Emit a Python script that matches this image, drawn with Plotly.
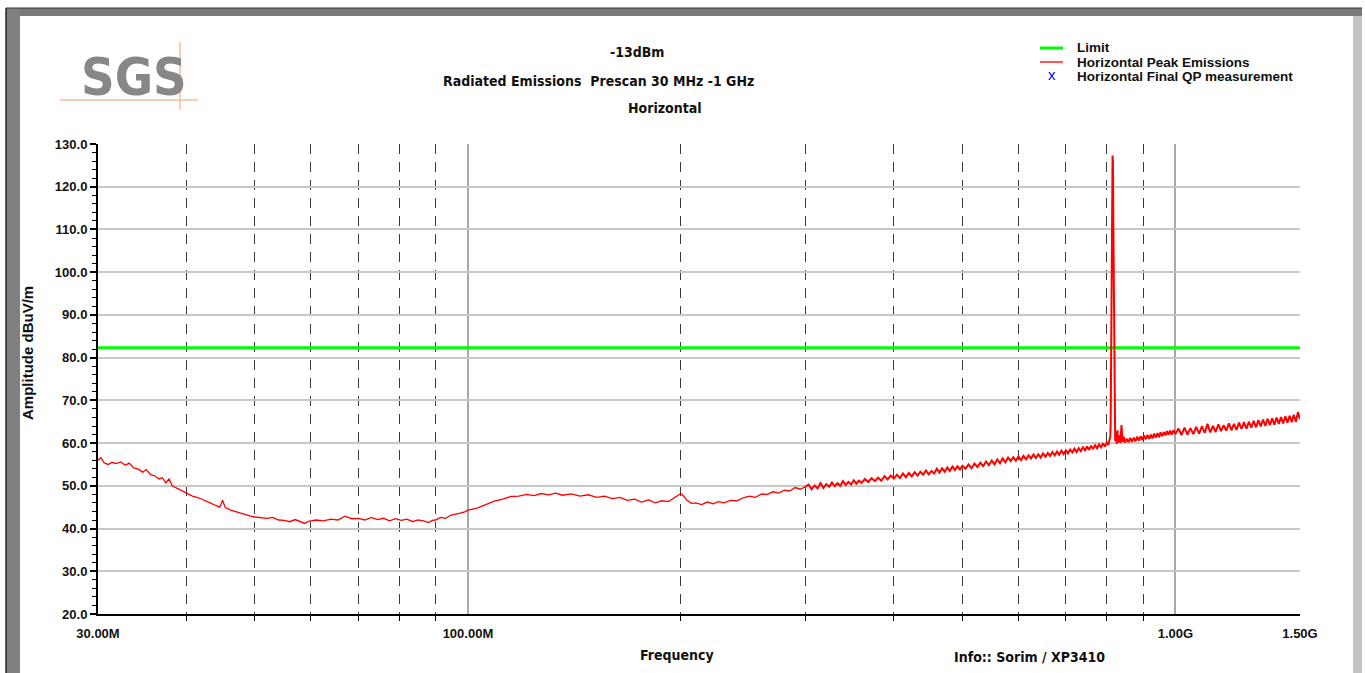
import math
import plotly.graph_objects as go

# ---------------- data ----------------
# Horizontal peak emissions: frequency in MHz, amplitude in dBuV/m
peak_freq_low = [30.0, 30.3, 30.6, 31.0, 31.4, 31.8, 32.3, 32.8, 33.2, 33.7, 34.2, 34.7, 35.1, 35.6,
                 36.1, 36.6, 37.0, 37.4, 37.8, 38.2, 38.7, 39.3, 40.0,
                 40.8, 41.6, 42.4, 43.2, 44.0, 44.6, 45.0, 45.4, 46.2, 47.0, 47.8, 48.6, 49.3, 50.0,
                 51, 52, 53, 54, 55, 56, 57, 58, 58.8, 59.5, 60,
                 61, 62.5, 64, 65.5, 67, 68.5, 70, 71.5, 73, 74.5, 76, 77.5, 79, 80.5, 82, 83.5, 85,
                 86.5, 88, 89, 90, 91.5, 93, 94.5, 96, 97.5, 99, 100]
peak_amp_low = [56.0, 56.6, 55.4, 55.0, 55.5, 55.2, 55.6, 54.8, 55.3, 54.2, 53.9, 53.2, 53.8, 52.6,
                52.3, 51.6, 51.9, 50.7, 51.6, 50.0, 49.5, 49.0, 48.3,
                47.6, 47.2, 46.5, 46.0, 45.4, 45.0, 46.6, 44.9, 44.3, 43.9, 43.6, 43.2, 42.9, 42.7,
                42.6, 42.4, 42.6, 42.0, 41.9, 41.6, 42.1, 41.6, 41.2, 41.7, 41.8,
                42.0, 41.8, 42.2, 42.0, 42.9, 42.3, 42.4, 42.0, 42.6, 42.1, 42.4, 41.8, 42.3, 41.9, 42.2,
                41.6, 42.0, 41.8, 41.4, 41.9, 42.0, 42.6, 42.4, 43.1, 43.3, 43.6, 43.9, 44.3]

peak_freq_mid = [103, 106, 109, 112, 115, 118, 121, 124, 127, 130, 133, 136, 140, 144, 148, 152, 156,
                 160, 164, 168, 172, 176, 180, 184, 188, 192, 195, 198, 200, 202, 204, 207, 210,
                 214, 218, 222, 226, 230, 235, 240, 245, 250, 255, 260, 265, 270, 275, 280, 285,
                 290, 295, 300]
peak_amp_mid = [44.8, 45.6, 46.4, 46.9, 47.5, 47.6, 48.0, 47.7, 48.2, 47.9, 48.3, 47.8, 48.1, 47.6,
                47.9, 47.3, 47.6, 47.0, 47.3, 46.6, 46.9, 46.2, 46.7, 46.0, 46.5, 46.3, 47.0, 47.6,
                48.2, 47.5, 46.6, 45.9, 46.0,
                45.6, 46.2, 45.8, 46.3, 46.0, 46.6, 46.5, 47.2, 47.6, 47.3, 48.1, 48.0, 48.6, 48.3,
                49.0, 48.8, 49.6, 49.2, 49.8]

peak_freq_high = [303, 306, 309, 312, 315, 318, 321, 324, 327, 330, 333, 336, 339, 342, 345, 348, 351,
                  354, 357, 360, 364, 368, 372, 376, 380, 384, 388, 392, 396, 400,
                  404, 408, 412, 416, 420, 424, 428, 432, 436, 440, 444, 448, 452, 456, 460, 464, 468,
                  472, 476, 480, 484, 488, 492, 496, 500,
                  505, 510, 515, 520, 525, 530, 535, 540, 545, 550, 555, 560, 565, 570, 575, 580, 585,
                  590, 595, 600,
                  605, 610, 615, 620, 625, 630, 635, 640, 645, 650, 655, 660, 665, 670, 675, 680, 685,
                  690, 695, 700,
                  705, 710, 715, 720, 725, 730, 735, 740, 745, 750, 755, 760, 765, 770, 775, 780, 785,
                  790, 795, 800]
peak_amp_high = [50.3, 49.2, 50.1, 49.4, 50.6, 49.5, 50.4, 49.8, 50.8, 49.9, 50.6, 50.0, 51.1, 50.2,
                 50.9, 50.3, 51.3, 50.5, 51.2, 50.7, 51.6, 50.9, 51.8, 51.1, 51.9, 51.2, 52.3, 51.5,
                 52.4, 51.7,
                 52.6, 51.8, 52.9, 52.0, 53.0, 52.2, 53.2, 52.4, 53.3, 52.6, 53.6, 52.7, 53.5, 52.9,
                 54.0, 53.1, 54.1, 53.3, 54.3, 53.5, 54.5, 53.7, 54.6, 53.8, 54.7,
                 54.0, 55.0, 54.1, 55.2, 54.4, 55.4, 54.6, 55.7, 54.8, 55.9, 55.0, 56.2, 55.3, 56.4,
                 55.5, 56.6, 55.8, 56.7, 55.9, 56.9,
                 56.0, 57.0, 56.2, 57.1, 56.4, 57.3, 56.5, 57.4, 56.6, 57.6, 56.8, 57.7, 57.0, 57.9,
                 57.1, 58.0, 57.3, 58.2, 57.4, 58.3,
                 57.6, 58.5, 57.8, 58.7, 57.9, 58.8, 58.1, 59.0, 58.3, 59.2, 58.4, 59.4, 58.6, 59.5,
                 58.8, 59.7, 59.0, 59.9, 59.2, 60.1]

peak_freq_spike = [804, 807, 809, 810, 811, 812, 813, 814, 815, 816, 817, 818, 819, 820, 821, 822,
                   824, 826, 828, 830, 833, 836, 839, 842, 845, 848]
peak_amp_spike = [59.6, 60.5, 61.5, 64.5, 75.0, 92.0, 110.0, 122.0, 127.3, 126.0, 112.0, 100.0, 85.0,
                  72.0, 64.0, 60.5, 62.5, 59.8, 63.0, 60.2, 61.8, 60.0, 64.2, 60.3, 61.5, 60.1]

peak_freq_top = [853, 858, 863, 868, 873, 878, 883, 888, 893, 898, 903, 908, 913, 918, 923, 928, 933,
                 938, 943, 948, 953, 958, 963, 968, 973, 978, 983, 988, 994, 1000,
                 1010, 1020, 1030, 1040, 1050, 1060, 1070, 1080, 1090, 1100, 1110, 1120, 1130, 1140,
                 1150, 1160, 1170, 1180, 1190, 1200, 1210, 1220, 1230, 1240, 1250, 1260, 1270, 1280,
                 1290, 1300, 1310, 1320, 1330, 1340, 1350, 1360, 1370, 1380, 1390, 1400, 1410, 1420,
                 1430, 1440, 1450, 1460, 1470, 1480, 1490, 1500]
peak_amp_top = [61.0, 60.2, 61.2, 60.3, 61.3, 60.4, 61.5, 60.6, 61.6, 60.7, 61.8, 60.9, 61.9, 61.0,
                62.0, 61.1, 62.2, 61.3, 62.3, 61.4, 62.5, 61.6, 62.6, 61.8, 62.8, 61.9, 62.9, 62.0,
                63.0, 62.1,
                63.4, 61.9, 63.6, 62.0, 63.5, 62.1, 63.8, 62.2, 63.9, 62.4, 64.5, 62.5, 64.0, 62.6,
                64.4, 62.8, 64.2, 62.9, 64.6, 63.0, 64.5, 63.1, 64.8, 63.3, 64.9, 63.4, 65.0, 63.6,
                65.2, 63.7, 65.4, 63.9, 65.5, 64.0, 65.7, 64.2, 65.8, 64.3, 66.0, 64.5, 66.1, 64.6,
                66.3, 64.8, 66.4, 64.9, 66.6, 65.0, 67.2, 65.6]

limit_freq = [30, 1500]
limit_amp = [82.3, 82.3]

x_major_vals = [30, 100, 1000, 1500]
x_major_text = ["30.00M", "100.00M", "1.00G", "1.50G"]
x_minor_vals = [40, 50, 60, 70, 80, 90, 200, 300, 400, 500, 600, 700, 800, 900]

title_lines = ["-13dBm", "Radiated Emissions  Prescan 30 MHz -1 GHz", "Horizontal"]
legend_names = ["Limit", "Horizontal Peak Emissions", "Horizontal Final QP measurement"]

# ---------------- layout geometry ----------------
W, H = 1365, 673
L, R, T, B = 98, 65, 144, 59
PW, PH = W - L - R, H - T - B


def px(x):
    return (x - L) / PW


def py(y):
    return (H - B - y) / PH


NARROW = "Liberation Sans Narrow, DejaVu Sans"
ARIAL = "Liberation Sans, Arial, sans-serif"

fig = go.Figure()
fig.add_trace(go.Scatter(x=limit_freq, y=limit_amp, mode="lines", name=legend_names[0],
                         line=dict(color="#00ff00", width=3), showlegend=False))
# low band drawn thin, dense noisy high band drawn a bit heavier
fig.add_trace(go.Scatter(x=peak_freq_low + peak_freq_mid, y=peak_amp_low + peak_amp_mid,
                         mode="lines", name=legend_names[1],
                         line=dict(color="#ff0000", width=1.3), showlegend=False))
fig.add_trace(go.Scatter(x=[300] + peak_freq_high + peak_freq_spike + peak_freq_top,
                         y=[49.8] + peak_amp_high + peak_amp_spike + peak_amp_top,
                         mode="lines", name=legend_names[1],
                         line=dict(color="#ff0000", width=2), showlegend=False))
fig.add_trace(go.Scatter(x=[], y=[], mode="markers", name=legend_names[2],
                         marker=dict(color="#0000ff", symbol="x-thin"), showlegend=False))

xr = [math.log10(30), math.log10(1500)]

fig.update_layout(
    width=W, height=H,
    margin=dict(l=L, r=R, t=T, b=B, pad=0),
    paper_bgcolor="white", plot_bgcolor="white",
    showlegend=False,
    xaxis=dict(type="log", range=xr, tickmode="array", tickvals=x_major_vals, ticktext=x_major_text,
               ticks="", showline=True, linecolor="black", linewidth=2, ticklabelstandoff=6,
               showgrid=True, gridcolor="#a8a8a8", gridwidth=2,
               tickfont=dict(family=ARIAL, size=13, color="#111", weight="bold"),
               minor=dict(tickmode="array", tickvals=x_minor_vals, ticks="outside", ticklen=5,
                          tickwidth=1.3, tickcolor="black", showgrid=True, gridcolor="#3a3a3a",
                          gridwidth=1.3, griddash="10px,8px"),
               zeroline=False, fixedrange=True),
    xaxis2=dict(type="log", range=xr, overlaying="x", side="bottom", tickmode="array",
                tickvals=x_minor_vals, ticks="inside", ticklen=5, tickwidth=1.3, tickcolor="black",
                showticklabels=False, showgrid=False, showline=False, zeroline=False),
    yaxis=dict(range=[20, 130], dtick=10, tick0=20, tickformat=".1f", ticks="outside", ticklen=6,
               tickwidth=1.5, tickcolor="black", showline=True, linecolor="black", linewidth=2,
               showgrid=True, gridcolor="#c8c8c8", gridwidth=2,
               tickfont=dict(family=ARIAL, size=13, color="#111", weight="bold"),
               minor=dict(dtick=2, ticks="outside", ticklen=4, tickwidth=1.3, tickcolor="black",
                          showgrid=False),
               zeroline=False, fixedrange=True),
    yaxis2=dict(range=[20, 130], overlaying="y", side="left", dtick=10, tick0=20, ticks="inside",
                ticklen=6, tickwidth=1.5, tickcolor="black", showticklabels=False,
                showgrid=False, showline=False, zeroline=False,
                minor=dict(dtick=2, ticks="inside", ticklen=4, tickwidth=1.3, tickcolor="black",
                           showgrid=False)),
)

shapes = []
# window frame
shapes.append(dict(type="rect", xref="paper", yref="paper", x0=px(1353), x1=px(1362), y0=py(673),
                   y1=py(16), fillcolor="#c4c4c4", line=dict(width=0), layer="below"))
shapes.append(dict(type="rect", xref="paper", yref="paper", x0=px(6), x1=px(1362), y0=py(16),
                   y1=py(8), fillcolor="#7a7a7a", line=dict(width=0), layer="below"))
shapes.append(dict(type="rect", xref="paper", yref="paper", x0=px(6), x1=px(20), y0=py(673),
                   y1=py(8), fillcolor="#808080", line=dict(width=0), layer="below"))
shapes.append(dict(type="line", xref="paper", yref="paper", x0=px(6), x1=px(6), y0=py(673),
                   y1=py(8), line=dict(color="black", width=1.2)))
shapes.append(dict(type="line", xref="paper", yref="paper", x0=px(6), x1=px(1362), y0=py(8),
                   y1=py(8), line=dict(color="#333", width=1.2)))
# SGS logo lines
shapes.append(dict(type="line", xref="paper", yref="paper", x0=px(60), x1=px(198), y0=py(100),
                   y1=py(100), line=dict(color="#f2a06a", width=1)))
shapes.append(dict(type="line", xref="paper", yref="paper", x0=px(180), x1=px(180), y0=py(42),
                   y1=py(110), line=dict(color="#f2a06a", width=1)))
# legend symbols
shapes.append(dict(type="line", xref="paper", yref="paper", x0=px(1040), x1=px(1063), y0=py(48),
                   y1=py(48), line=dict(color="#00ff00", width=3)))
shapes.append(dict(type="line", xref="paper", yref="paper", x0=px(1040), x1=px(1063), y0=py(62),
                   y1=py(62), line=dict(color="#ff0000", width=1.3)))
fig.update_layout(shapes=shapes)

ann = []


def text(x, y, s, size=16, family=NARROW, color="#111", xanchor="center", weight="bold", angle=0,
         condensed=True):
    if condensed:
        s = '<span style="font-stretch:condensed">' + s + '</span>'
    ann.append(dict(x=px(x), y=py(y), xref="paper", yref="paper", text=s, showarrow=False,
                    xanchor=xanchor, yanchor="middle", textangle=angle,
                    font=dict(family=family, size=size, color=color, weight=weight)))


text(134, 77, "SGS", size=52, color="#878787")
text(637, 52, title_lines[0], size=14)
text(598, 81, title_lines[1], size=14)
text(665, 108, title_lines[2], size=14)
text(1075, 48, legend_names[0], size=13.5, family=ARIAL, xanchor="left", condensed=False)
text(1075, 62, legend_names[1], size=13.5, family=ARIAL, xanchor="left", condensed=False)
text(1075, 76, legend_names[2], size=13.5, family=ARIAL, xanchor="left", condensed=False)
text(1052, 75, "x", size=15, family=ARIAL, color="#0000ff", weight="normal", condensed=False)
text(677, 655, "Frequency", size=14)
text(1029, 657, "Info:: Sorim / XP3410", size=14)
text(27, 353, "Amplitude dBuV/m", size=15, family=ARIAL, angle=-90, condensed=False)
fig.update_layout(annotations=ann)

fig.write_html("out.html")
